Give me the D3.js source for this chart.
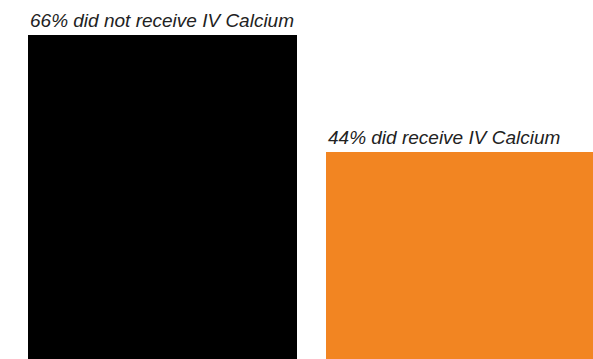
<!doctype html>
<html>
<head>
<script src="https://d3js.org/d3.v7.min.js"></script>
<style>
  body { margin: 0; background: #fff; }
</style>
</head>
<body>
<script>
    // data
    var categories = ["did not receive", "did receive"];
    var values = [66, 44];
    var labels = ["66% did not receive IV Calcium", "44% did receive IV Calcium"];
    var colors = ["#000000", "#f28522"];

    var width = 593, height = 359;

    var svg = d3.select("body")
        .append("svg")
        .attr("width", width)
        .attr("height", height);

    // bars run past the bottom edge of the picture
    var xScale = d3.scaleBand()
        .domain(categories)
        .range([28, 595])
        .paddingInner(29 / 298)
        .paddingOuter(0);

    var yScale = d3.scaleLinear()
        .domain([0, 66])
        .range([386, 35]);

    svg.selectAll(".bar")
        .data(values)
        .enter().append("rect")
        .attr("class", "bar")
        .attr("x", function(d, i) { return xScale(categories[i]); })
        .attr("y", function(d) { return yScale(d); })
        .attr("width", xScale.bandwidth())
        .attr("height", function(d) { return yScale(0) - yScale(d); })
        .attr("fill", function(d, i) { return colors[i]; });

    svg.selectAll(".label")
        .data(values)
        .enter().append("text")
        .attr("class", "label")
        .attr("x", function(d, i) { return xScale(categories[i]) + 2; })
        .attr("y", function(d) { return yScale(d) - 8.5; })
        .attr("font-family", "Liberation Sans, Arial, sans-serif")
        .attr("font-style", "italic")
        .attr("font-size", "19px")
        .attr("fill", "#222")
        .text(function(d, i) { return labels[i]; });
</script>
</body>
</html>
